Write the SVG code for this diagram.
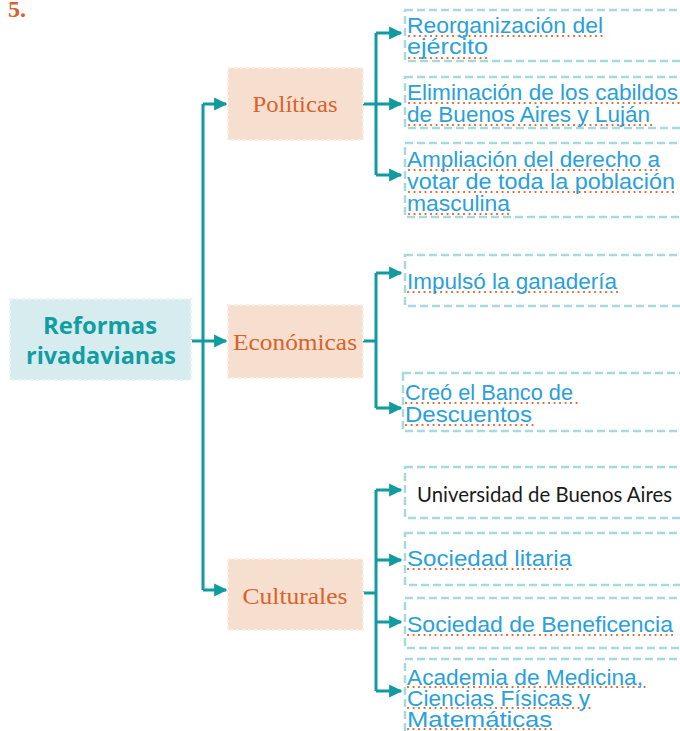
<svg xmlns="http://www.w3.org/2000/svg" width="680" height="731" viewBox="0 0 680 731">
<style>
.conn{fill:none;stroke:#0f9ba0;stroke-width:3;}
.main{fill:#d6ecef;stroke:#e8f5f6;stroke-width:2;stroke-dasharray:3 3;}
.cat{fill:#f7dfd0;stroke:#fbeee5;stroke-width:2;stroke-dasharray:3 3;}
.cattext{font-family:"Liberation Serif","DejaVu Serif",serif;font-size:23px;fill:#d9622b;text-anchor:middle;}
.maintext{font-family:"Open Sans","Liberation Sans",sans-serif;font-weight:bold;font-size:23px;fill:#119ea3;text-anchor:middle;}
.box{fill:none;stroke:#a6dadd;stroke-width:2.5;stroke-dasharray:8 4;}
.hand{font-family:"Liberation Sans","DejaVu Sans",sans-serif;font-size:22px;fill:#2aa0dc;}
.plain{font-family:"Lato","Open Sans",sans-serif;font-size:22px;fill:#1a1a1a;}
.dots{fill:none;stroke:#e0622a;stroke-width:2.2;stroke-linecap:round;stroke-dasharray:0.1 5.4;}
</style>
<defs>
<marker id="ah" viewBox="0 0 10 10" refX="9" refY="5" markerWidth="4.4" markerHeight="4.4" markerUnits="strokeWidth" orient="auto">
<path d="M0,0 L10,5 L0,10 z" fill="#0f9ba0"/>
</marker>
</defs>
<text x="8" y="17" font-family="Liberation Serif,serif" font-weight="bold" font-size="24" fill="#d9622b">5.</text>

<g id="connectors">
<path class="conn" d="M191,341 H203"/>
<path class="conn" d="M203,104 V590"/>
<path class="conn" d="M203,104 H226" marker-end="url(#ah)"/>
<path class="conn" d="M203,341 H226" marker-end="url(#ah)"/>
<path class="conn" d="M203,590 H226" marker-end="url(#ah)"/>

<path class="conn" d="M363,104 H376"/>
<path class="conn" d="M376,33 V175"/>
<path class="conn" d="M376,33 H401" marker-end="url(#ah)"/>
<path class="conn" d="M376,104 H401" marker-end="url(#ah)"/>
<path class="conn" d="M376,175 H401" marker-end="url(#ah)"/>

<path class="conn" d="M363,341 H376"/>
<path class="conn" d="M376,273 V408"/>
<path class="conn" d="M376,273 H401" marker-end="url(#ah)"/>
<path class="conn" d="M376,408 H401" marker-end="url(#ah)"/>

<path class="conn" d="M363,593 H376"/>
<path class="conn" d="M376,490 V691"/>
<path class="conn" d="M376,490 H401" marker-end="url(#ah)"/>
<path class="conn" d="M376,560 H401" marker-end="url(#ah)"/>
<path class="conn" d="M376,622 H401" marker-end="url(#ah)"/>
<path class="conn" d="M376,691 H401" marker-end="url(#ah)"/>
</g>

<g id="main">
<rect class="main" x="10" y="299" width="181" height="81"/>
<text class="maintext" x="100" y="334" textLength="114" lengthAdjust="spacingAndGlyphs">Reformas</text>
<text class="maintext" x="101" y="364" textLength="150" lengthAdjust="spacingAndGlyphs">rivadavianas</text>
</g>

<g id="politicas">
<rect class="cat" x="228" y="68" width="135" height="72"/>
<text class="cattext" x="295" y="112" textLength="85" lengthAdjust="spacingAndGlyphs">Políticas</text>
</g>
<g id="economicas">
<rect class="cat" x="228" y="305" width="135" height="73"/>
<text class="cattext" x="295" y="350" textLength="124" lengthAdjust="spacingAndGlyphs">Económicas</text>
</g>
<g id="culturales">
<rect class="cat" x="228" y="559" width="135" height="71"/>
<text class="cattext" x="295" y="604" textLength="105" lengthAdjust="spacingAndGlyphs">Culturales</text>
</g>

<g id="p1">
<rect class="box" x="405" y="10" width="280" height="51"/>
<path class="dots" d="M409,36 H607 M409,58 H490"/>
<text class="hand" x="407" y="33" textLength="196" lengthAdjust="spacingAndGlyphs">Reorganización del</text>
<text class="hand" x="407" y="54" textLength="81" lengthAdjust="spacingAndGlyphs">ejército</text>
</g>
<g id="p2">
<rect class="box" x="405" y="77" width="280" height="51"/>
<path class="dots" d="M409,103 H679 M409,125 H652"/>
<text class="hand" x="407" y="100" textLength="271" lengthAdjust="spacingAndGlyphs">Eliminación de los cabildos</text>
<text class="hand" x="407" y="122" textLength="243" lengthAdjust="spacingAndGlyphs">de Buenos Aires y Luján</text>
</g>
<g id="p3">
<rect class="box" x="405" y="143" width="280" height="74"/>
<path class="dots" d="M409,170 H662 M409,192 H678 M409,214 H512"/>
<text class="hand" x="407" y="167" textLength="253" lengthAdjust="spacingAndGlyphs">Ampliación del derecho a</text>
<text class="hand" x="407" y="189" textLength="268" lengthAdjust="spacingAndGlyphs">votar de toda la población</text>
<text class="hand" x="407" y="211" textLength="103" lengthAdjust="spacingAndGlyphs">masculina</text>
</g>

<g id="e1">
<rect class="box" x="405" y="255" width="280" height="51"/>
<path class="dots" d="M408,292 H618"/>
<text class="hand" x="407" y="289" textLength="210" lengthAdjust="spacingAndGlyphs">Impulsó la ganadería</text>
</g>
<g id="e2">
<rect class="box" x="403" y="373" width="282" height="58"/>
<path class="dots" d="M406,403 H577 M406,425 H533"/>
<text class="hand" x="405" y="400" textLength="168" lengthAdjust="spacingAndGlyphs">Creó el Banco de</text>
<text class="hand" x="405" y="422" textLength="127" lengthAdjust="spacingAndGlyphs">Descuentos</text>
</g>

<g id="c1">
<rect class="box" x="405" y="467" width="280" height="51"/>
<text class="plain" x="417" y="502" textLength="255" lengthAdjust="spacingAndGlyphs">Universidad de Buenos Aires</text>
</g>
<g id="c2">
<rect class="box" x="405" y="533" width="280" height="52"/>
<path class="dots" d="M408,569 H573"/>
<text class="hand" x="407" y="566" textLength="165" lengthAdjust="spacingAndGlyphs">Sociedad litaria</text>
</g>
<g id="c3">
<rect class="box" x="405" y="598" width="280" height="50"/>
<path class="dots" d="M408,635 H675"/>
<text class="hand" x="407" y="632" textLength="266" lengthAdjust="spacingAndGlyphs">Sociedad de Beneficencia</text>
</g>
<g id="c4">
<rect class="box" x="405" y="659" width="280" height="80"/>
<path class="dots" d="M408,687 H647 M408,708 H592 M408,729 H553"/>
<text class="hand" x="407" y="685" textLength="236" lengthAdjust="spacingAndGlyphs">Academia de Medicina,</text>
<text class="hand" x="407" y="706" textLength="183" lengthAdjust="spacingAndGlyphs">Ciencias Físicas y</text>
<text class="hand" x="407" y="727" textLength="145" lengthAdjust="spacingAndGlyphs">Matemáticas</text>
</g>
</svg>
